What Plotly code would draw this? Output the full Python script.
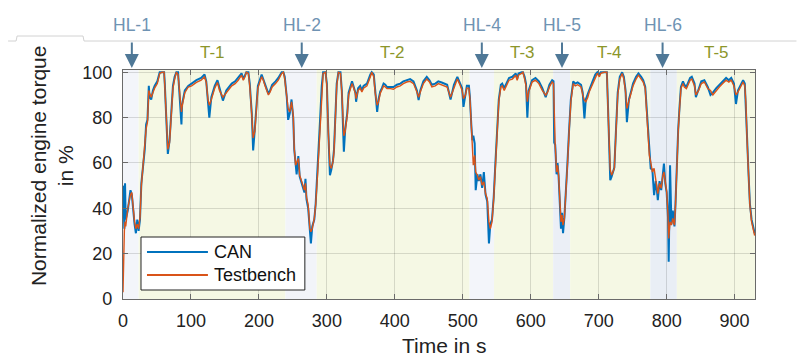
import plotly.graph_objects as go

# ---------------- data ----------------
time_s = [0, 1, 2, 3, 4, 7, 11, 13, 15, 17, 19, 21, 23, 25, 27, 29, 32, 34, 36, 38, 39, 41.5, 44, 46.5,
          50.5, 54, 57, 60.5, 61.5, 63.5, 66, 68.5, 71, 73.5, 76, 78.5, 81, 83, 86, 87, 91, 96, 101, 108,
          115, 120, 122.5, 125, 127, 130, 135, 139, 142, 147, 152,
          155, 160, 165, 169.5, 174.5, 177, 179.5, 181.5, 184.5, 186.5, 189.5, 191.5, 194, 196.5, 198.5,
          204, 206.5, 209, 214, 216.5, 219.5, 224.5, 228.5, 233.5, 236, 238, 241, 243, 245.5, 248, 250.5,
          252, 254, 255.5, 258, 260, 264, 267, 268.5, 270, 272.5, 275, 276.5, 278.5, 281.5, 283.5, 286.5,
          290, 292.5, 294.5, 298, 300, 302, 304.5, 306.5, 309,
          310.5, 312.5, 314.5, 317, 320, 322, 325, 327, 330, 332, 334.5, 337, 339, 342, 343, 346, 349,
          351.5, 354, 359, 364, 366, 369, 371, 374, 376, 378.5, 381, 383.5, 386, 388.5, 393.5, 398, 403,
          408, 412.5, 417.5, 422.5, 427.5, 432.5, 435, 437.5, 442, 447, 451, 454.5, 459.5, 464, 469,
          472, 477, 482, 487, 492, 495, 499, 501, 504, 506, 509, 510.5, 512.5, 514, 515.5, 517.5, 519,
          521.5, 523.5, 526, 528.5, 531, 533.5, 536, 538.5, 540.5, 543, 545.5, 548, 551, 553, 556, 558,
          561, 563, 568, 573, 578, 580, 582, 586.5, 588.5, 591, 593, 595, 597, 602, 607, 612, 617,
          622, 625, 627.5, 631.5, 633.5, 634.5, 636, 638, 639.5, 641, 643, 644.5, 646, 647.5, 649.5,
          651.5, 654, 656.5, 659, 662.5, 665.5, 669, 674, 676.5, 679, 681, 684, 686, 691, 695, 698, 701,
          703, 708, 712, 714, 715.5, 717, 719, 723, 725.5, 728, 731, 734.5, 737, 739.5, 741.5, 744.5,
          748, 750.5, 755, 758.5, 762.5, 765.5, 768.5, 770.5, 772.5, 774.5, 776.5, 779, 781.5, 784,
          785, 787, 789.5, 792, 794.5, 796, 798, 800, 802, 803, 805, 807, 809, 811.5, 813, 815, 817,
          819, 821, 824, 826, 829, 831, 834.5, 837, 841, 843, 847, 851, 855.5, 860.5, 864.5, 868, 873,
          877.5, 882.5, 887.5, 891.5, 895, 899, 902, 905, 909, 912.5, 915, 916.5, 918.5, 920.5, 922.5,
          925, 927.5, 929.5]

testbench = [3, 22, 30, 34, 32, 40, 46, 47, 40, 34, 31, 33, 31, 36, 50, 57, 65, 75, 78, 92, 91, 89, 91, 93,
             95, 99.5, 100, 100, 94, 80, 66, 69, 81, 93, 97, 100, 99, 91, 82.5, 85, 91, 93.5, 94, 95.5,
             96.5, 98, 95.5, 88, 85.5, 88, 93, 95.5, 92, 89, 91,
             92, 94, 95, 96.5, 98.7, 96.5, 98, 100, 99.5, 94, 81, 71, 74, 85.5, 93,
             98, 96.5, 94, 90, 91.3, 93.5, 95, 96.5, 99.5, 100, 97, 88, 84, 82.5, 87, 81,
             66.4, 59, 60.5, 62, 54.6, 51, 48, 51, 45, 41.4, 31, 29.7, 31, 35.5, 41.4, 56,
             78, 93, 99.5, 100, 94, 74, 59, 57.6, 60.5,
             65, 81, 94, 100, 99.5, 91, 72, 74, 81, 90, 93, 95, 93.5, 90.6, 88.4, 92, 93,
             91.3, 93, 94, 98, 100, 98, 91, 85.5, 87, 90.6, 92, 94, 93.5, 92.8, 92.8, 92.5, 93.5,
             94, 95, 95.7, 96, 95, 91.3, 89, 91.3, 95, 97, 95.7, 93.5, 94, 95, 94.5,
             94, 93.5, 89, 93.5, 97, 95, 92, 88.4, 90, 93, 93, 88.4, 76.5, 69, 59, 63.4, 56,
             54.6, 52.4, 54, 50.2, 51.7, 46.5, 44.3, 34, 31, 34, 44.3, 59, 74, 87, 93.5, 94,
             92, 93.5, 96.5, 97, 98.7, 96.5, 98.7, 99.5, 100, 97, 94, 87, 91.3, 95.7, 96.5, 95, 92,
             89.9, 91.3, 93.5, 95.7, 95, 81, 68, 56, 59, 54.6, 44.3, 34, 37, 32.6, 35.5,
             44.3, 59, 74, 87, 95, 94, 94.5, 93.5, 90, 87.7, 87, 89, 91.3, 95, 98, 99.5, 98,
             99.5, 100, 100, 81, 65, 57, 54.6, 57.6, 74, 90, 97, 99.5, 97, 91.3, 84, 87,
             91.3, 94, 97, 98.7, 97, 95.7, 92.8, 84, 74, 63.4, 60.5, 56, 57.6, 51.7,
             50.2, 46.5, 51, 48.8, 54.6, 56, 51.7, 47.3, 37, 26.7, 34, 32.6, 35.5, 32.6, 41.4, 59, 74,
             84, 92.8, 95, 93.5, 92.8, 94, 96.5, 97, 94, 90, 92, 95, 95.7, 92.8, 92, 90, 92,
             93.5, 95, 96.5, 95.7, 96.5, 94, 90, 91.3, 93.5, 95.7, 94, 87, 69, 54.6, 41.4,
             34, 31, 28]

can = [50, 36, 31, 51, 35, 39, 48, 46, 38, 33, 29, 35, 30, 35, 51, 58, 66, 77, 79, 94, 89, 88, 92, 94,
       96, 100, 100, 100, 95, 81, 64, 70, 82, 94, 98, 100, 100, 92, 77, 86, 92, 94, 95, 96.5,
       97.5, 99, 96, 88, 80, 89, 94, 96.5, 93, 87.5, 92,
       93, 95, 96, 97.5, 99.5, 97, 99, 100, 100, 95, 82, 65.5, 75, 86, 94,
       99, 97, 95, 90.5, 92, 94.5, 96, 97.5, 100, 100, 98, 89, 79, 82, 88, 80,
       66, 58, 55, 63, 54, 50, 47, 53, 44, 40, 30, 24.5, 32, 35, 42, 57,
       79, 94, 100, 100, 95, 75, 54.6, 57, 61,
       66, 82, 95, 100, 100, 92, 65, 75, 82, 91, 94, 96, 94, 91, 87, 93, 94,
       92, 94, 95, 99, 100, 99, 92, 82.5, 88, 91.5, 93, 95, 94.5, 93.5, 93.5, 93.5, 94.5,
       95, 96, 96.5, 97, 96, 92, 87.7, 92, 96, 98, 96.5, 94.5, 95, 96, 95.5,
       95, 94.5, 88, 94.5, 98, 96, 93, 84.7, 91, 94, 94, 89, 77, 70, 72, 68.6, 48,
       55, 52, 55, 49, 56, 46, 43, 24.5, 33, 35, 45, 60, 75, 88, 94.5, 95,
       93, 94.5, 97.5, 98, 99.5, 97, 99.5, 100, 100, 98, 95, 80, 92, 96.5, 97.5, 96, 93,
       89, 92, 94.5, 96.5, 96, 69, 68, 55, 60, 54, 43, 31, 38, 29, 36,
       45, 60, 75, 88, 96, 95, 95.5, 94.5, 91, 79.6, 88, 90, 92, 96, 99, 100, 99,
       100, 100, 100, 82, 66, 52.4, 54, 58, 75, 91, 98, 100, 98, 92, 78, 88,
       92, 95, 98, 99.5, 98, 96.5, 93.5, 85, 75, 64, 57.6, 57, 45.8, 52,
       50, 43.6, 52, 48, 55, 59.7, 51, 47, 36, 16.4, 59, 33, 39, 32, 42, 60, 75,
       85, 93.5, 96, 94.5, 93.5, 95, 97.5, 98, 95, 89, 93, 96, 96.5, 93.5, 90, 91, 93,
       94.5, 96, 97.5, 96.5, 97.5, 95, 86, 92, 94.5, 96.5, 95, 79.6, 70, 55, 42,
       35, 32, 29]

x_ticks = [0, 100, 200, 300, 400, 500, 600, 700, 800, 900]
y_ticks = [0, 20, 40, 60, 80, 100]

# test phases (T) and highlighted phases (HL)
region_bounds = [0, 23, 239, 285, 510, 546, 633, 658, 776, 815, 930]
region_kinds = ["HL", "T", "HL", "T", "HL", "T", "HL", "T", "HL", "T"]
hl_labels = ["HL-1", "HL-2", "HL-4", "HL-5", "HL-6"]
hl_times = [13, 263, 528, 646, 794]
t_labels = ["T-1", "T-2", "T-3", "T-4", "T-5"]
t_label_times = [131, 397, 588.5, 716.5, 874]

# ---------------- figure ----------------
W, H = 797, 358
L, R, T, B = 123, 41.5, 70, 59
PW, PH = W - L - R, H - T - B


def px(xp):
    return (xp - L) / PW


def py(yp):
    return (H - B - yp) / PH


FONT = "Liberation Sans, Arial, sans-serif"
AX = "#6a6a6a"

fig = go.Figure()
fig.add_trace(go.Scatter(x=time_s, y=can, mode="lines", name="CAN",
                         line=dict(color="#0072BD", width=2.0), showlegend=False))
fig.add_trace(go.Scatter(x=time_s, y=testbench, mode="lines", name="Testbench",
                         line=dict(color="#D95319", width=1.4), showlegend=False))

hl_fill = ["#f3f5fa", "#f2f4f9", "#f3f5fa", "#ebeff6", "#e9eef5"]
k = 0
for i, kind in enumerate(region_kinds):
    if kind == "HL":
        col = hl_fill[k]
        k += 1
    else:
        col = "#f5f8e4"
    fig.add_vrect(x0=region_bounds[i], x1=region_bounds[i + 1], fillcolor=col,
                  line_width=0, layer="below")

annotations = []
for lab, tt in zip(hl_labels, hl_times):
    annotations.append(dict(x=tt, y=py(25), xref="x", yref="paper", text=lab, showarrow=False,
                            font=dict(family=FONT, size=17.5, color="#6f93b3"),
                            xanchor="center", yanchor="middle"))
    annotations.append(dict(x=tt, y=py(68), xref="x", yref="paper", text="", showarrow=True,
                            ax=0, ay=-27, arrowhead=2, arrowsize=1.4, arrowwidth=2,
                            arrowcolor="#4f7897"))
for lab, tt in zip(t_labels, t_label_times):
    annotations.append(dict(x=tt, y=py(52), xref="x", yref="paper", text=lab, showarrow=False,
                            font=dict(family=FONT, size=17, color="#8c962a"),
                            xanchor="center", yanchor="middle"))

# axis titles
annotations.append(dict(x=px(52), y=py(166), xref="paper", yref="paper",
                        text="Normalized engine torque<br>in %", textangle=-90, showarrow=False,
                        font=dict(family=FONT, size=21, color="#222"),
                        xanchor="center", yanchor="middle"))
annotations.append(dict(x=px(444), y=py(345), xref="paper", yref="paper", text="Time in s",
                        showarrow=False, font=dict(family=FONT, size=21, color="#222"),
                        xanchor="center", yanchor="middle"))

# manual legend
annotations.append(dict(x=px(212), y=py(252), xref="paper", yref="paper", text="CAN",
                        showarrow=False, font=dict(family=FONT, size=18, color="#111"),
                        xanchor="left", yanchor="middle"))
annotations.append(dict(x=px(212), y=py(275), xref="paper", yref="paper", text="Testbench",
                        showarrow=False, font=dict(family=FONT, size=18, color="#111"),
                        xanchor="left", yanchor="middle"))

shapes = [
    dict(type="rect", xref="paper", yref="paper", x0=px(141), x1=px(305), y0=py(290), y1=py(237),
         fillcolor="white", line=dict(color="#222", width=1), layer="above"),
    dict(type="line", xref="paper", yref="paper", x0=px(147), x1=px(208), y0=py(252), y1=py(252),
         line=dict(color="#0072BD", width=1.8), layer="above"),
    dict(type="line", xref="paper", yref="paper", x0=px(147), x1=px(208), y0=py(275), y1=py(275),
         line=dict(color="#D95319", width=1.8), layer="above"),
    dict(type="path", xref="paper", yref="paper",
         path=f"M {px(8)},{py(41)} L {px(16)},{py(41)} L {px(17)},{py(36)} L {px(83)},{py(36)} "
              f"L {px(84)},{py(41)} L {px(797)},{py(41)}",
         line=dict(color="#d2d2d2", width=1), layer="above"),
]
for s in shapes:
    fig.add_shape(**s)

fig.update_layout(
    width=W, height=H,
    margin=dict(l=L, r=R, t=T, b=B, pad=0),
    paper_bgcolor="white", plot_bgcolor="white",
    annotations=annotations,
    font=dict(family=FONT, color="#222"),
    xaxis=dict(range=[0, 930], tickmode="array", tickvals=x_ticks,
               ticktext=[str(v) for v in x_ticks],
               showgrid=True, gridcolor="rgba(0,0,0,0.13)", gridwidth=1,
               ticks="inside", ticklen=5, tickcolor=AX, tickwidth=1,
               showline=True, linecolor=AX, linewidth=1.3, mirror="ticks",
               tickfont=dict(family=FONT, size=18, color="#222"), zeroline=False,
               ticklabelstandoff=5),
    yaxis=dict(range=[0, 101], tickmode="array", tickvals=y_ticks,
               ticktext=[str(v) for v in y_ticks],
               showgrid=True, gridcolor="rgba(0,0,0,0.13)", gridwidth=1,
               ticks="inside", ticklen=5, tickcolor=AX, tickwidth=1,
               showline=True, linecolor=AX, linewidth=1.3, mirror="ticks",
               tickfont=dict(family=FONT, size=18, color="#222"), zeroline=False,
               ticklabelstandoff=6),
)

fig.write_html("out.html")
